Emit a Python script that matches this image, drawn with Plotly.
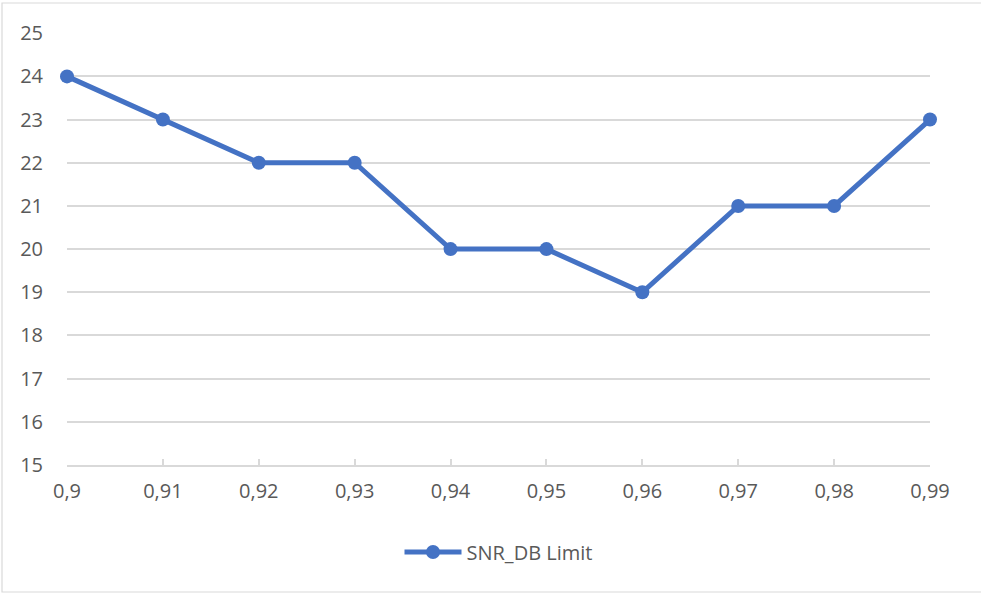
import plotly.graph_objects as go

# Threshold values and the SNR limit reached at each one
thresholds = ["0,9", "0,91", "0,92", "0,93", "0,94", "0,95", "0,96", "0,97", "0,98", "0,99"]
snr_db_limit = [24, 23, 22, 22, 20, 20, 19, 21, 21, 23]
y_ticks = list(range(15, 26))

W, H = 981, 593
ML, MR, MT, MB = 67, 51, 33, 128
PW, PH = W - ML - MR, H - MT - MB

BLUE = "#4472C4"
GRID = "#d9d9d9"
TEXT = "#595959"
FONT = "Open Sans, Liberation Sans, sans-serif"
FS = 20

fig = go.Figure()
fig.add_trace(go.Scatter(
    x=thresholds,
    y=snr_db_limit,
    mode="lines+markers",
    name="SNR_DB Limit",
    line=dict(color=BLUE, width=5),
    marker=dict(color=BLUE, size=14),
    cliponaxis=False,
))


def px_x(p):
    return (p - ML) / PW


def px_y(p):
    return (H - MB - p) / PH


# Light outer chart frame
fig.add_shape(type="rect", xref="paper", yref="paper",
              x0=px_x(2), x1=px_x(983), y0=px_y(3), y1=px_y(592),
              line=dict(color=GRID, width=1.2), fillcolor="rgba(0,0,0,0)", layer="below")

fig.update_layout(
    width=W, height=H,
    margin=dict(l=ML, r=MR, t=MT, b=MB),
    paper_bgcolor="white",
    plot_bgcolor="white",
    font=dict(family=FONT, size=FS, color=TEXT),
    showlegend=True,
    legend=dict(
        orientation="h",
        x=0.5, xanchor="center",
        y=px_y(552), yanchor="middle",
        font=dict(family=FONT, size=FS, color=TEXT),
        itemwidth=57,
        bgcolor="rgba(0,0,0,0)",
    ),
    xaxis=dict(
        type="category",
        range=[0, len(thresholds) - 1],
        showgrid=False,
        showline=True, linecolor=GRID, linewidth=1.5,
        ticks="inside", ticklen=6, tickcolor=GRID, tickwidth=1.5,
        tickfont=dict(family=FONT, size=FS, color=TEXT),
        ticklabelstandoff=7,
        zeroline=False,
        fixedrange=True,
    ),
    yaxis=dict(
        range=[15, 25.005],
        tickvals=y_ticks,
        ticktext=[str(v) for v in y_ticks],
        showgrid=True, gridcolor=GRID, gridwidth=1.5,
        showline=False,
        zeroline=False,
        ticks="",
        tickfont=dict(family=FONT, size=FS, color=TEXT),
        ticklabelstandoff=23,
        fixedrange=True,
    ),
)

fig.write_html("out.html")
